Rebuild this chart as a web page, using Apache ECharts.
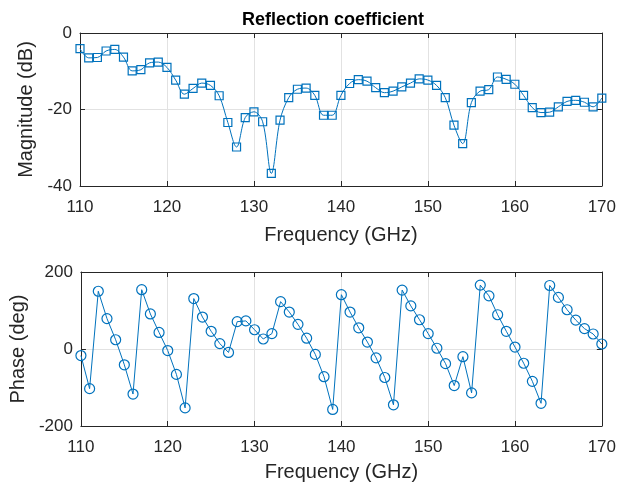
<!DOCTYPE html>
<html>
<head>
<meta charset="utf-8">
<script src="https://cdn.jsdelivr.net/npm/echarts@6/dist/echarts.min.js"></script>
<style>
html,body{margin:0;padding:0;background:#fff;}
#chart{width:619px;height:487px;}
</style>
</head>
<body>
<div id="chart"></div>
<script>
// ---- data ----
const freq = [110,111,112,113,114,115,116,117,118,119,120,121,122,123,124,125,126,127,128,129,130,
  131,132,133,134,135,136,137,138,139,140,141,142,143,144,145,146,147,148,149,150,
  151,152,153,154,155,156,157,158,159,160,161,162,163,164,165,166,167,168,169,170];
const magnitudeDb = [-4.1,-6.5,-6.4,-4.7,-4.3,-6.3,-9.9,-9.6,-7.8,-7.6,-9.0,
  -12.3,-16.0,-14.5,-13.1,-13.7,-16.4,-23.4,-29.8,-22.1,-20.6,
  -23.2,-36.7,-22.8,-16.9,-14.7,-14.4,-16.3,-21.5,-21.5,-16.3,
  -13.2,-12.2,-12.6,-14.3,-15.6,-15.2,-14.1,-13.1,-12.0,-12.3,
  -13.7,-16.9,-24.1,-28.9,-18.2,-15.2,-14.8,-11.5,-12.1,-13.4,
  -16.3,-19.5,-20.8,-20.7,-19.3,-17.9,-17.6,-18.1,-19.3,-17.0];
const phaseDeg = [-17,-103,150,79,24,-41,-117,154,91,43,-4,
  -66,-153,131,83,46,14,-9,71,73,50,
  26,40,123,96,64,28,-14,-72,-157,141,
  96,55,18,-23,-74,-145,153,112,76,40,
  2,-38,-95,-20,-114,166,138,89,46,5,
  -37,-84,-141,165,134,102,75,53,39,13];
const freqTicks = [110,120,130,140,150,160,170];
const magTicks = [-40,-20,0];
const phaseTicks = [-200,0,200];

const FONT = "Arial, 'Liberation Sans', Helvetica, sans-serif";
const TXT = '#262626';
const BLUE = '#0072BD';
const GRIDC = '#e2e2e2';

const chart = echarts.init(document.getElementById('chart'), null, {renderer:'canvas'});

function xAxes(gridIndex){
  return [{
    type:'value', gridIndex, min:freqTicks[0], max:freqTicks[freqTicks.length-1], interval:10,
    position:'bottom',
    name:'Frequency (GHz)', nameLocation:'middle', nameGap:gridIndex===0?39:36,
    nameTextStyle:{fontFamily:FONT, fontSize:20, color:TXT},
    axisLine:{show:true, onZero:false, lineStyle:{color:TXT, width:1}},
    axisTick:{show:true, inside:true, length:5, lineStyle:{color:TXT}},
    axisLabel:{fontFamily:FONT, fontSize:17, color:TXT, margin:13},
    splitLine:{show:true, lineStyle:{color:GRIDC, width:1}}
  },{
    type:'value', gridIndex, min:freqTicks[0], max:freqTicks[freqTicks.length-1], interval:10,
    position:'top',
    axisLine:{show:true, onZero:false, lineStyle:{color:TXT, width:1}},
    axisTick:{show:true, inside:true, length:5, lineStyle:{color:TXT}},
    axisLabel:{show:false}, splitLine:{show:false}
  }];
}
function yAxes(gridIndex, ticks, interval, name, gap){
  return [{
    type:'value', gridIndex, min:ticks[0], max:ticks[ticks.length-1], interval,
    position:'left',
    name, nameLocation:'middle', nameGap:gap, nameRotate:90,
    nameTextStyle:{fontFamily:FONT, fontSize:20, color:TXT},
    axisLine:{show:true, onZero:false, lineStyle:{color:TXT, width:1}},
    axisTick:{show:true, inside:true, length:5, lineStyle:{color:TXT}},
    axisLabel:{fontFamily:FONT, fontSize:17, color:TXT, margin:8},
    splitLine:{show:true, lineStyle:{color:GRIDC, width:1}}
  },{
    type:'value', gridIndex, min:ticks[0], max:ticks[ticks.length-1], interval,
    position:'right',
    axisLine:{show:true, onZero:false, lineStyle:{color:TXT, width:1}},
    axisTick:{show:true, inside:true, length:5, lineStyle:{color:TXT}},
    axisLabel:{show:false}, splitLine:{show:false}
  }];
}

const magData = freq.map((f,i)=>[f, magnitudeDb[i]]);
const phaseData = freq.map((f,i)=>[f, phaseDeg[i]]);

chart.setOption({
  animation:false,
  backgroundColor:'#fff',
  title:{
    text:'Reflection coefficient', left:237, top:6,
    textStyle:{fontFamily:FONT, fontSize:18, fontWeight:'bold', color:'#000'}
  },
  grid:[
    {left:80, top:33, width:523, height:153, containLabel:false},
    {left:80, top:272, width:523, height:154, containLabel:false}
  ],
  xAxis:[...xAxes(0), ...xAxes(1)],
  yAxis:[...yAxes(0, magTicks, 20, 'Magnitude (dB)', 35), ...yAxes(1, phaseTicks, 200, 'Phase (deg)', 51)],
  series:[
    {
      type:'line', xAxisIndex:0, yAxisIndex:0, data:magData,
      smooth:0.35,
      symbol:'rect', symbolSize:8,
      lineStyle:{color:BLUE, width:1},
      itemStyle:{color:'rgba(255,255,255,0)', borderColor:BLUE, borderWidth:1.2},
      emphasis:{disabled:true}
    },
    {
      type:'line', xAxisIndex:2, yAxisIndex:2, data:phaseData,
      symbol:'circle', symbolSize:10,
      lineStyle:{color:BLUE, width:1},
      itemStyle:{color:'rgba(255,255,255,0)', borderColor:BLUE, borderWidth:1.2},
      emphasis:{disabled:true}
    }
  ]
});
</script>
</body>
</html>
